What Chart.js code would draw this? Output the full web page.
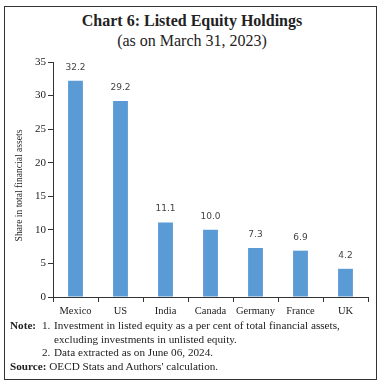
<!DOCTYPE html>
<html>
<head>
<meta charset="utf-8">
<script src="https://cdn.jsdelivr.net/npm/chart.js@4"></script>
<style>
  body { margin: 0; background: #fff; }
  #wrap { position: relative; width: 384px; height: 384px; font-family: "Liberation Serif", serif; color: #222; }
  #box { position: absolute; left: 4px; top: 6px; width: 373px; height: 374px; border: 1px solid #333; box-sizing: border-box; }
  .title { position: absolute; left: 0; width: 384px; text-align: center; font-size: 16px; }
  #t1 { top: 12px; font-weight: bold; }
  #t2 { top: 32px; }
  #chartBox { position: absolute; left: 0; top: 50px; width: 384px; height: 272px; }
  #notes { position: absolute; left: 0; top: 320px; width: 384px; font-size: 11.2px; }
  .ln { position: relative; height: 13.7px; white-space: nowrap; }
  .ln span { position: absolute; top: -1px; }
</style>
</head>
<body>
<div id="wrap">
  <div id="box"></div>
  <div class="title" id="t1">Chart 6: Listed Equity Holdings</div>
  <div class="title" id="t2">(as on March 31, 2023)</div>
  <div id="chartBox"><canvas id="barChart"></canvas></div>
  <div id="notes">
    <div class="ln"><span style="left:10px"><b>Note:</b></span><span style="left:42px">1.</span><span style="left:54px">Investment in listed equity as a per cent of total financial assets,</span></div>
    <div class="ln"><span style="left:54px">excluding investments in unlisted equity.</span></div>
    <div class="ln"><span style="left:42px">2.</span><span style="left:54px">Data extracted as on June 06, 2024.</span></div>
    <div class="ln"><span style="left:10px"><b>Source:</b> OECD Stats and Authors' calculation.</span></div>
  </div>
</div>
<script>
// du lieu bieu do
const countries = ["Mexico", "US", "India", "Canada", "Germany", "France", "UK"];
const equityShare = [32.2, 29.2, 11.1, 10.0, 7.3, 6.9, 4.2];
const yTicks = [0, 5, 10, 15, 20, 25, 30, 35];

// ve so tren dau cot
const barLabels = {
  id: "barLabels",
  afterDatasetsDraw(chart) {
    const { ctx } = chart;
    const meta = chart.getDatasetMeta(0);
    ctx.save();
    ctx.font = "9px 'DejaVu Sans'";
    ctx.fillStyle = "#444";
    ctx.textAlign = "center";
    ctx.textBaseline = "bottom";
    meta.data.forEach((bar, i) => {
      ctx.fillText(equityShare[i].toFixed(1), bar.x, bar.y - 9);
    });
    ctx.restore();
  },
};

// tieu de truc y, ve lech xuong mot chut nhu ban goc
const yTitle = {
  id: "yTitle",
  afterDraw(chart) {
    const { ctx, chartArea } = chart;
    ctx.save();
    ctx.translate(19, (chartArea.top + chartArea.bottom) / 2 + 6);
    ctx.rotate(-Math.PI / 2);
    ctx.font = "9.6px 'Liberation Serif'";
    ctx.fillStyle = "#222";
    ctx.textAlign = "center";
    ctx.textBaseline = "middle";
    ctx.fillText("Share in total financial assets", 0, 0);
    ctx.restore();
  },
};

new Chart(document.getElementById("barChart"), {
  type: "bar",
  data: {
    labels: countries,
    datasets: [{
      data: equityShare,
      backgroundColor: "#5B9BD5",
      barPercentage: 0.66,
      categoryPercentage: 0.5,
    }],
  },
  options: {
    responsive: true,
    maintainAspectRatio: false,
    animation: false,
    layout: { padding: { top: 12, right: 16, left: 6, bottom: 0 } },
    plugins: { legend: { display: false }, tooltip: { enabled: false } },
    scales: {
      x: {
        grid: { display: true, drawOnChartArea: false, drawTicks: true, tickLength: 5, color: "#333", offset: true },
        border: { color: "#333" },
        ticks: { color: "#222", font: { family: "Liberation Serif", size: 10.5 }, padding: 3, maxRotation: 0 },
        afterFit(scale) { scale.height = 25; },
      },
      y: {
        min: 0,
        max: 35,
        afterBuildTicks(scale) { scale.ticks = yTicks.map(v => ({ value: v })); },
        grid: { display: true, drawOnChartArea: false, drawTicks: true, tickLength: 5, color: "#333" },
        border: { color: "#333" },
        ticks: { color: "#222", font: { family: "Liberation Serif", size: 11 }, padding: 2 },
        afterFit(scale) { scale.width = 47; },
      },
    },
  },
  plugins: [barLabels, yTitle],
});
</script>
</body>
</html>
